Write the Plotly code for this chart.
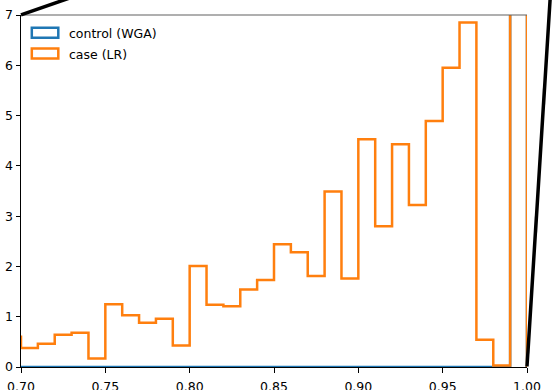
import numpy as np
import plotly.graph_objects as go

# ---- data (density per 0.01-wide bin) ----
bin_lo = 0.69
bin_width = 0.01
case_density = [0.60, 0.38, 0.46, 0.64, 0.68, 0.17, 1.25, 1.03, 0.88, 0.96, 0.43,
                2.01, 1.24, 1.21, 1.54, 1.73, 2.44, 2.28, 1.81, 3.49, 1.76,
                4.53, 2.80, 4.43, 3.22, 4.89, 5.95, 6.85, 0.54, 0.03, 95.0]
control_density = [0.0] * 30 + [99.0]
x_ticks = [0.70, 0.75, 0.80, 0.85, 0.90, 0.95, 1.00]
y_ticks = [0, 1, 2, 3, 4, 5, 6, 7]
legend_labels = ["control (WGA)", "case (LR)"]
colors = ["#1f77b4", "#ff7f0e"]

W, H = 552, 390
ML, MR, MT, MB = 21, 25, 15, 23
PW, PH = W - ML - MR, H - MT - MB


def step_path(vals):
    vals = np.asarray(vals, dtype=float)
    n = len(vals)
    edges = bin_lo + bin_width * np.arange(n + 1)
    xs = np.repeat(edges, 2)
    ys = np.concatenate([[0.0], np.repeat(vals, 2), [0.0]])
    return xs, ys


def px_x(p):
    return (p - ML) / PW


def px_y(p):
    return (H - MB - p) / PH


fig = go.Figure()
for vals, col in [(control_density, colors[0]), (case_density, colors[1])]:
    xs, ys = step_path(vals)
    fig.add_trace(go.Scatter(x=xs, y=ys, mode="lines",
                             line=dict(color=col, width=2.5, shape="linear"),
                             showlegend=False, hoverinfo="skip"))

shapes = []
# top spine
shapes.append(dict(type="line", xref="paper", yref="paper", x0=0, x1=1, y0=1, y1=1,
                   line=dict(color="#606060", width=1.2)))
# legend patches
for i, col in enumerate(colors):
    top = 27.7 + i * 20.8
    shapes.append(dict(type="rect", xref="paper", yref="paper",
                       x0=px_x(31.8), x1=px_x(58.3), y0=px_y(top), y1=px_y(top + 10),
                       line=dict(color=col, width=2.5), fillcolor="rgba(0,0,0,0)"))
# inset connector lines
shapes.append(dict(type="line", xref="paper", yref="paper",
                   x0=px_x(21), y0=px_y(14.8), x1=px_x(121), y1=px_y(14.8 - 34.5),
                   line=dict(color="black", width=3.5)))
shapes.append(dict(type="line", xref="paper", yref="paper",
                   x0=px_x(527), y0=px_y(366.5), x1=px_x(552.6), y1=px_y(-40),
                   line=dict(color="black", width=3.5)))

annotations = []
for i, lab in enumerate(legend_labels):
    annotations.append(dict(text=lab, xref="paper", yref="paper",
                            x=px_x(66.5), y=px_y(33 + i * 21), xanchor="left", yanchor="middle",
                            showarrow=False, font=dict(family="DejaVu Sans", size=12.5, color="black")))

fig.update_layout(
    width=W, height=H,
    margin=dict(l=ML, r=MR, t=MT, b=MB, pad=0, autoexpand=False),
    paper_bgcolor="white", plot_bgcolor="white",
    font=dict(family="DejaVu Sans", size=12.5, color="black"),
    shapes=shapes, annotations=annotations,
    showlegend=False,
    xaxis=dict(range=[0.70, 1.00], tickvals=x_ticks, ticktext=[f"{v:.2f}" for v in x_ticks],
               showgrid=False, zeroline=False, showline=True, linecolor="black", linewidth=1,
               ticks="outside", ticklen=4.5, tickcolor="black", tickwidth=1,
               ticklabelstandoff=3, automargin=False),
    yaxis=dict(range=[0, 7], tickvals=y_ticks, ticktext=[str(v) for v in y_ticks],
               showgrid=False, zeroline=False, showline=True, linecolor="black", linewidth=1,
               ticks="outside", ticklen=4.5, tickcolor="black", tickwidth=1,
               ticklabelstandoff=0, automargin=False),
)

fig.write_html("out.html", config={"displayModeBar": False})
